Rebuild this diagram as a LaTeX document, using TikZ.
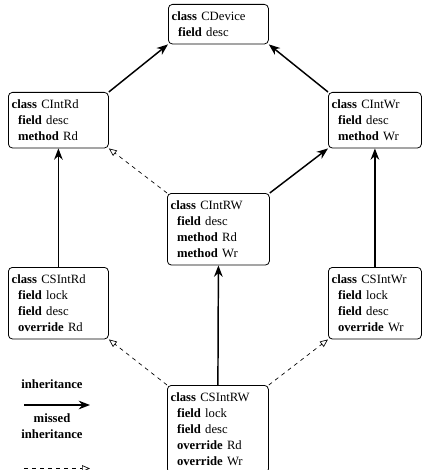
\documentclass[tikz,border=0pt]{standalone}
\usepackage{fontspec}
\setmainfont{Liberation Serif}
\usetikzlibrary{arrows.meta}
\begin{document}
\begin{tikzpicture}[x=0.75pt, y=-0.75pt, font=\fontsize{9.5}{12}\selectfont, line join=round,
		cls/.style={draw, line width=0.6pt, rounded corners=3pt, anchor=north west, align=left,
			text width=#1, inner xsep=2.5pt, inner ysep=5.5pt},
		inh/.style={line width=1.1pt, -{Stealth[length=8.5pt, width=6.5pt]}},
		miss/.style={line width=0.5pt, dash pattern=on 3pt off 3pt, -{Triangle[open, length=6pt, width=5pt]}}]
	\useasboundingbox (0,0) rectangle (423,470);
	\node[cls=70pt] (CDevice) at (168,4) {\textbf{class} CDevice\\\enspace\textbf{field} desc};
	\node[cls=70pt] (CIntRd) at (8,92) {\textbf{class} CIntRd\\\enspace\textbf{field} desc\\\enspace\textbf{method} Rd};
	\node[cls=64.75pt] (CIntWr) at (328,92) {\textbf{class} CIntWr\\\enspace\textbf{field} desc\\\enspace\textbf{method} Wr};
	\node[cls=71.5pt] (CIntRW) at (167,193) {\textbf{class} CIntRW\\\enspace\textbf{field} desc\\\enspace\textbf{method} Rd\\\enspace\textbf{method} Wr};
	\node[cls=70pt] (CSIntRd) at (8,267) {\textbf{class} CSIntRd\\\enspace\textbf{field} lock\\\enspace\textbf{field} desc\\\enspace\textbf{override} Rd};
	\node[cls=64.75pt] (CSIntWr) at (328,267) {\textbf{class} CSIntWr\\\enspace\textbf{field} lock\\\enspace\textbf{field} desc\\\enspace\textbf{override} Wr};
	\node[cls=70.75pt] (CSIntRW) at (167,385) {\textbf{class} CSIntRW\\\enspace\textbf{field} lock\\\enspace\textbf{field} desc\\\enspace\textbf{override} Rd\\\enspace\textbf{override} Wr};
	% inheritance
	\draw[inh] (CIntRd.north east) -- (CDevice.south west);
	\draw[inh] (CIntWr.north west) -- (CDevice.south east);
	\draw[inh] (CIntRW.north east) -- (CIntWr.south west);
	\draw[inh] (CSIntRd.north) -- (CIntRd.south);
	\draw[inh] (CSIntWr.north) -- (CIntWr.south);
	\draw[inh] (CSIntRW.north) -- (CIntRW.south);
	% missed inheritance
	\draw[miss] (CIntRW.north west) -- (CIntRd.south east);
	\draw[miss] (CSIntRW.north west) -- (CSIntRd.south east);
	\draw[miss] (CSIntRW.north east) -- (CSIntWr.south west);
	% legend
	\node[font=\fontsize{9.5}{12}\selectfont\bfseries] (inhtxt) at (52,384) {inheritance};
	\node[font=\fontsize{9.5}{12}\selectfont\bfseries, align=center] (misstxt) at (52,426) {missed\\inheritance};
	\coordinate (inhA) at (24,405);
	\coordinate (inhB) at (90,405);
	\coordinate (missA) at (24,468.5);
	\coordinate (missB) at (90,468.5);
	\draw[inh] (inhA) -- (inhB);
	\draw[miss] (missA) -- (missB);
\end{tikzpicture}
\end{document}
